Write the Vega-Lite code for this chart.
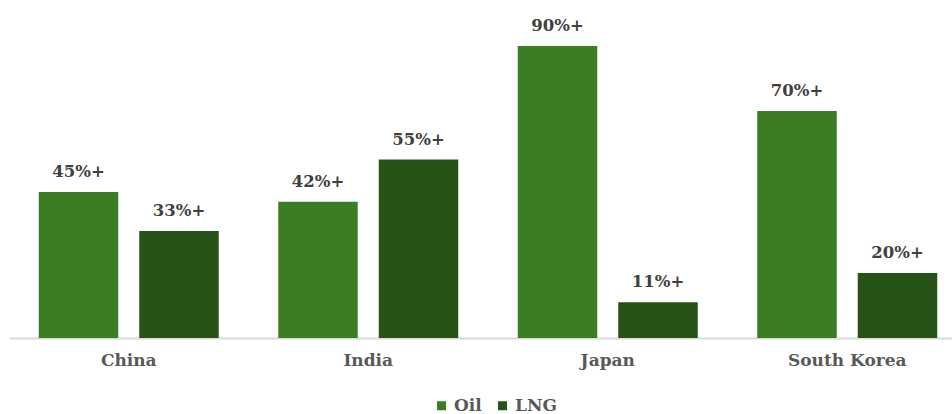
{
  "$schema": "https://vega.github.io/schema/vega-lite/v6.json",
  "autosize": "none",
  "padding": {"left": 9, "top": 0, "right": 0, "bottom": 76},
  "width": 958,
  "height": 338,
  "background": "white",
  "config": {"view": {"stroke": null}},
  "data": {
    "values": [
      {"country": "China", "fuel": "Oil", "value": 45, "label": "45%+"},
      {"country": "China", "fuel": "LNG", "value": 33, "label": "33%+"},
      {"country": "India", "fuel": "Oil", "value": 42, "label": "42%+"},
      {"country": "India", "fuel": "LNG", "value": 55, "label": "55%+"},
      {"country": "Japan", "fuel": "Oil", "value": 90, "label": "90%+"},
      {"country": "Japan", "fuel": "LNG", "value": 11, "label": "11%+"},
      {"country": "South Korea", "fuel": "Oil", "value": 70, "label": "70%+"},
      {"country": "South Korea", "fuel": "LNG", "value": 20, "label": "20%+"}
    ]
  },
  "encoding": {
    "x": {
      "field": "country",
      "type": "nominal",
      "sort": ["China", "India", "Japan", "South Korea"],
      "scale": {"paddingInner": 0, "paddingOuter": 0},
      "axis": {
        "title": null,
        "ticks": false,
        "labelAngle": 0,
        "labelFont": "DejaVu Serif",
        "labelFontWeight": "bold",
        "labelFontSize": 17,
        "labelColor": "#595959",
        "labelPadding": 14,
        "domainColor": "#d9d9d9",
        "domainWidth": 2,
        "grid": false
      }
    },
    "xOffset": {
      "field": "fuel",
      "type": "nominal",
      "sort": ["Oil", "LNG"],
      "scale": {"paddingInner": 0.209, "paddingOuter": 0.296}
    },
    "y": {
      "field": "value",
      "type": "quantitative",
      "scale": {"domain": [0, 104.2], "nice": false},
      "axis": null
    }
  },
  "layer": [
    {
      "mark": {"type": "bar"},
      "encoding": {
        "color": {
          "field": "fuel",
          "type": "nominal",
          "sort": ["Oil", "LNG"],
          "scale": {"domain": ["Oil", "LNG"], "range": ["#3B7D23", "#275317"]},
          "legend": {
            "title": null,
            "orient": "none",
            "direction": "horizontal",
            "legendX": 424,
            "legendY": 397,
            "symbolType": "square",
            "symbolSize": 81,
            "symbolStrokeWidth": 0,
            "labelFont": "DejaVu Serif",
            "labelFontWeight": "bold",
            "labelFontSize": 17,
            "labelColor": "#595959",
            "labelOffset": 4,
            "columnPadding": 12
          }
        }
      }
    },
    {
      "mark": {
        "type": "text",
        "baseline": "alphabetic",
        "dy": -15,
        "font": "DejaVu Serif",
        "fontWeight": "bold",
        "fontSize": 16.5,
        "color": "#404040"
      },
      "encoding": {"text": {"field": "label"}}
    }
  ]
}
